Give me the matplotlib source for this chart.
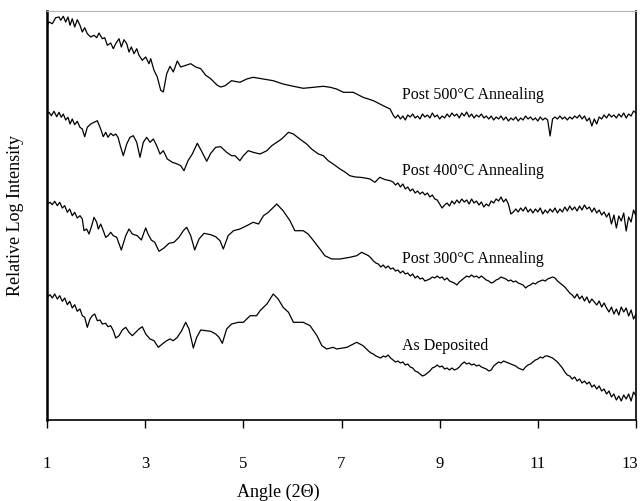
#!/usr/bin/env python
"""Low-angle XRD scans of the film after each anneal step, offset for display."""

import matplotlib

matplotlib.use("Agg")
import matplotlib.pyplot as plt
import matplotlib.transforms as mtransforms
import numpy as np

OUT_PATH = "out.png"
STEP = 0.05

# --- Post 500 C anneal: (angle, relative log intensity) ---
pts_500 = [
    (1.006, 394.7), (1.041, 398), (1.108, 396.3), (1.177, 402.3), (1.245, 403), (1.279, 399.7),
    (1.332, 403.7), (1.381, 398), (1.428, 403), (1.469, 394.7), (1.515, 401.3), (1.564, 393),
    (1.617, 400.3), (1.672, 394.7), (1.719, 388), (1.768, 392.3), (1.821, 386.3), (1.890, 383),
    (1.958, 384.7), (2.013, 382.3), (2.059, 387), (2.127, 381.3), (2.176, 382.3), (2.229, 374.7),
    (2.298, 377), (2.351, 371.3), (2.400, 376.3), (2.467, 381.3), (2.514, 373), (2.569, 380.3),
    (2.624, 376.3), (2.671, 368), (2.718, 373), (2.773, 366.3), (2.828, 371.3), (2.874, 364.7),
    (2.942, 359.7), (3.011, 363), (3.078, 356.3), (3.113, 361.3), (3.180, 349.7), (3.247, 343),
    (3.317, 329.7), (3.370, 328), (3.439, 346.3), (3.506, 353.7), (3.573, 348), (3.655, 359),
    (3.724, 353), (3.826, 354.7), (3.928, 356.3), (4.030, 353), (4.132, 351.3), (4.234, 344.7),
    (4.335, 341.3), (4.470, 334.7), (4.539, 333), (4.63, 334.3), (4.76, 339.3), (4.93, 337.7),
    (5.07, 341), (5.20, 342.7), (5.41, 341), (5.61, 339.3), (5.81, 336), (6.02, 333.7),
    (6.22, 331.7), (6.43, 332.7), (6.63, 333.7), (6.77, 332.7), (6.90, 331), (7.04, 327.7),
    (7.24, 327.7), (7.44, 322.7), (7.65, 319.3), (7.85, 314.3), (7.99, 311), (8.06, 304.3),
]
tail_500_start = 8.10
tail_500 = [
    302, 305, 301, 304, 300, 305, 303, 306, 302, 304, 301, 306, 303, 305, 302, 307, 303, 305,
    301, 304, 302, 306, 303, 307, 304, 306, 302, 307, 304, 308, 303, 306, 302, 305, 303, 306,
    302, 304, 301, 304, 300, 303, 301, 304, 300, 303, 299, 302, 300, 303, 299, 302, 300, 304,
    301, 303, 300, 302, 299, 303, 300, 302, 300, 284, 301, 303, 301, 304, 301, 303, 300, 303,
    301, 304, 302, 305, 301, 304, 299, 302, 294, 301, 296, 303, 301, 305, 302, 306, 303, 305,
    302, 306, 303, 307, 302, 306, 304, 309, 307,
]

# --- Post 400 C anneal ---
pts_400 = [
    (1.006, 306), (1.041, 307.7), (1.088, 304.3), (1.143, 308.7), (1.198, 303.3), (1.245, 307.7),
    (1.291, 302.7), (1.332, 306), (1.381, 300), (1.428, 302.7), (1.469, 296), (1.515, 301),
    (1.564, 295.3), (1.617, 298.7), (1.672, 292.7), (1.719, 291), (1.768, 283.3), (1.821, 292.7),
    (1.890, 296), (1.958, 297.7), (2.025, 299.3), (2.094, 291), (2.147, 283.3), (2.196, 287.7),
    (2.243, 282.7), (2.298, 286.7), (2.351, 284.3), (2.400, 286), (2.447, 282.7), (2.502, 272.7),
    (2.555, 264.3), (2.624, 276), (2.691, 282.7), (2.758, 284.3), (2.828, 277.7), (2.895, 262.7),
    (2.962, 277.7), (3.031, 282.7), (3.099, 277.7), (3.166, 281), (3.235, 274.3), (3.302, 266),
    (3.370, 269.3), (3.451, 261), (3.553, 257.7), (3.655, 256), (3.724, 254.3), (3.791, 249.3),
    (3.873, 259.3), (3.960, 266), (4.062, 276.7), (4.144, 269.3), (4.254, 258.7), (4.335, 266.7),
    (4.437, 272.7), (4.539, 273.3), (4.66, 267.7), (4.76, 264.3), (4.83, 264.3), (4.93, 259.3),
    (5.00, 264.3), (5.10, 269.3), (5.20, 267.7), (5.34, 266), (5.48, 269.3), (5.58, 274.3),
    (5.68, 277.7), (5.78, 281), (5.92, 287.7), (6.02, 286), (6.15, 281), (6.29, 276),
    (6.39, 271), (6.53, 266), (6.63, 264.3), (6.73, 259.3), (6.83, 256), (6.97, 251),
    (7.07, 248), (7.17, 244.3), (7.28, 243), (7.38, 242.7), (7.48, 242), (7.58, 241),
    (7.68, 237.7), (7.78, 242.7), (7.88, 240.5), (7.99, 239.3),
]
tail_400_start = 8.05
tail_400 = [
    238, 235, 237, 233, 236, 231, 233, 229, 231, 227, 229, 226, 228, 225, 227, 223, 225, 221, 220,
    216, 212, 215, 217, 214, 219, 216, 220, 217, 221, 218, 220, 216, 221, 217, 219, 215, 218, 213, 216,
    214, 219, 217, 221, 219, 223, 218, 221, 216, 206, 208, 211, 208, 212, 209, 213, 208, 211, 207, 211,
    208, 212, 206, 210, 207, 211, 208, 212, 207, 211, 208, 213, 209, 214, 210, 213, 209, 214, 210, 215,
    211, 213, 208, 212, 207, 210, 205, 208, 203, 207, 196, 205, 192, 204, 199, 207, 189, 203, 198, 210,
    204,
]

# --- Post 300 C anneal ---
pts_300 = [
    (1.006, 216), (1.061, 217.7), (1.108, 215.3), (1.157, 218.7), (1.210, 214.3), (1.259, 217.7),
    (1.312, 212), (1.361, 214.3), (1.414, 207.7), (1.463, 211), (1.515, 204.3), (1.564, 207.7),
    (1.617, 202), (1.672, 204.3), (1.719, 201), (1.754, 189.3), (1.809, 191), (1.856, 186),
    (1.911, 194.3), (1.958, 202.7), (2.013, 197.7), (2.045, 191), (2.094, 196), (2.147, 189.3),
    (2.196, 182.7), (2.243, 184.3), (2.298, 187.7), (2.351, 184.3), (2.420, 182.7), (2.514, 170),
    (2.604, 184.3), (2.671, 191), (2.738, 186), (2.840, 184.3), (2.922, 180), (2.977, 187.7),
    (3.011, 192), (3.058, 186), (3.125, 180), (3.195, 177.7), (3.282, 168.7), (3.384, 172),
    (3.486, 176.7), (3.587, 177.7), (3.689, 182.7), (3.777, 189.3), (3.846, 192.7), (3.928, 184.3),
    (4.009, 170), (4.097, 181), (4.199, 186.7), (4.335, 185.3), (4.437, 183.3), (4.525, 179.3),
    (4.592, 171), (4.69, 184.3), (4.80, 189.3), (4.93, 191), (5.07, 194.3), (5.20, 197.7),
    (5.31, 196), (5.41, 204.3), (5.51, 207.7), (5.68, 216), (5.81, 209.3), (5.95, 199.3),
    (6.05, 189.3), (6.22, 189.3), (6.32, 186), (6.43, 179.3), (6.56, 171), (6.66, 164.3),
    (6.80, 161), (6.97, 161), (7.17, 162.7), (7.31, 164.3), (7.41, 167.7), (7.55, 164.3),
]
tail_300_start = 7.60
tail_300 = [
    162, 159, 157, 156, 153, 155, 152, 154,
    151, 152, 149, 150, 147, 149, 146, 147, 144, 146, 142, 144, 141, 142, 139, 140, 141, 143, 142, 144,
    142, 143, 140, 142, 139, 138, 137, 135, 138, 140, 142, 144, 143, 145, 143, 144, 142, 144, 142, 140,
    139, 137, 138, 140, 141, 143, 142, 141, 139, 140, 138, 139, 137, 136, 135, 132, 134, 135, 137, 136,
    138, 139, 140, 139, 141, 142, 143, 142, 139, 137, 135, 133, 130, 127, 125, 122, 126, 121, 124, 119,
    123, 117, 121, 118, 115, 119, 113, 117, 112, 108, 113, 106, 111, 105, 113, 108, 112, 104, 110, 101,
    106,
]

# --- As deposited ---
pts_dep = [
    (1.006, 122.7), (1.061, 125.3), (1.108, 122), (1.157, 126), (1.210, 121), (1.259, 124.3),
    (1.312, 118.7), (1.361, 122), (1.414, 115.3), (1.463, 118.7), (1.515, 112), (1.564, 115.3),
    (1.617, 108.7), (1.672, 111), (1.719, 104.3), (1.768, 102.7), (1.821, 92.7), (1.876, 101),
    (1.923, 104.3), (1.972, 106), (2.025, 99.3), (2.080, 100), (2.127, 96), (2.196, 96.7),
    (2.243, 93.3), (2.298, 94.3), (2.351, 89.3), (2.400, 82), (2.467, 84.3), (2.534, 90),
    (2.604, 92.7), (2.671, 87.7), (2.738, 84.3), (2.807, 87.7), (2.874, 91), (2.942, 93.3),
    (3.011, 86), (3.099, 81), (3.180, 79.3), (3.268, 72.7), (3.349, 76), (3.439, 79.3),
    (3.506, 81), (3.573, 79.3), (3.655, 82.7), (3.736, 88.7), (3.826, 97.7), (3.893, 91),
    (3.981, 72), (4.050, 82.7), (4.132, 90), (4.234, 89.3), (4.335, 88.7), (4.437, 86),
    (4.505, 82.7), (4.572, 76.7), (4.66, 91), (4.76, 96), (4.90, 97.7), (5.00, 97.7),
    (5.14, 104.3), (5.27, 104.3), (5.34, 109.3), (5.48, 116), (5.61, 126), (5.71, 121),
    (5.81, 112.7), (5.92, 107.7), (6.02, 97.7), (6.22, 97.7), (6.36, 94.3), (6.50, 84.3),
    (6.60, 74.3), (6.70, 71), (6.83, 72.7), (6.90, 71), (7.11, 72.7), (7.31, 77.7),
    (7.44, 74.3), (7.55, 69),
]
tail_dep_start = 7.60
tail_dep = [
    67, 66, 64, 63, 62, 64, 63, 65,
    62, 60, 58, 59, 57, 58, 55, 56, 53, 52, 49, 48, 46, 44, 45, 47, 49, 52, 53, 55,
    53, 54, 51, 52, 50, 52, 50, 51, 53, 56, 58, 56, 57, 55, 56, 54, 55, 53, 52, 51,
    49, 50, 54, 56, 58, 57, 59, 58, 57, 56, 55, 54, 52, 51, 50, 53, 55, 56, 58, 60,
    61, 63, 62, 64, 64, 63, 62, 60, 58, 55, 52, 48, 45, 44, 41, 43, 39, 41, 37, 39,
    36, 38, 33, 35, 31, 34, 29, 31, 26, 29, 23, 26, 20, 24, 19, 25, 21, 26, 19, 28,
    24,
]

labels = ["Post 500\u00b0C Annealing", "Post 400\u00b0C Annealing",
          "Post 300\u00b0C Annealing", "As Deposited"]
label_y = [326, 250, 162, 75]
label_x = 8.23
x_ticks = [1, 3, 5, 7, 9, 11, 13]


def build_curve(pts, tail_start, tail):
    x_head, y_head = np.array(pts, dtype=float).T
    x_tail = np.round(tail_start + STEP * np.arange(len(tail)), 2)
    return np.concatenate([x_head, x_tail]), np.concatenate([y_head, np.asarray(tail, dtype=float)])


def main() -> None:
    plt.rcParams["font.family"] = ["Liberation Serif", "DejaVu Serif"]
    fig = plt.figure(figsize=(6.42, 5.02), dpi=100)
    ax = fig.add_axes([47 / 642, 81 / 502, 589 / 642, 409 / 502])

    curves = [
        build_curve(pts_500, tail_500_start, tail_500),
        build_curve(pts_400, tail_400_start, tail_400),
        build_curve(pts_300, tail_300_start, tail_300),
        build_curve(pts_dep, tail_dep_start, tail_dep),
    ]
    for (x, y), text, ty in zip(curves, labels, label_y):
        ax.plot(x, y, color="black", linewidth=0.9)
        ax.text(label_x, ty, text, fontsize=11.5, ha="left", va="center")

    ax.set_xlim(1, 13)
    ax.set_ylim(0, 409)
    ax.set_xticks(x_ticks)
    ax.set_yticks([])
    ax.tick_params(axis="x", direction="out", length=6, width=1.0, pad=19, labelsize=12)

    # the last tick label sits flush with the right edge of the page
    last = ax.get_xticklabels()[-1]
    shift = mtransforms.ScaledTranslation(-6 / 100, 0, fig.dpi_scale_trans)
    last.set_transform(last.get_transform() + shift)

    ax.spines["left"].set_linewidth(1.8)
    ax.spines["bottom"].set_linewidth(1.2)
    ax.spines["right"].set_linewidth(1.2)
    ax.spines["top"].set_color("0.7")
    ax.spines["top"].set_linewidth(0.8)

    fig.text(278 / 642, 1 - 492 / 502, "Angle (2\u0398)", fontsize=13, ha="center", va="center")
    fig.text(16 / 642, 1 - 215 / 502, "Relative Log Intensity", fontsize=13,
             rotation=90, ha="center", va="center")

    fig.savefig(OUT_PATH, dpi=100)
    plt.close(fig)


if __name__ == "__main__":
    main()
